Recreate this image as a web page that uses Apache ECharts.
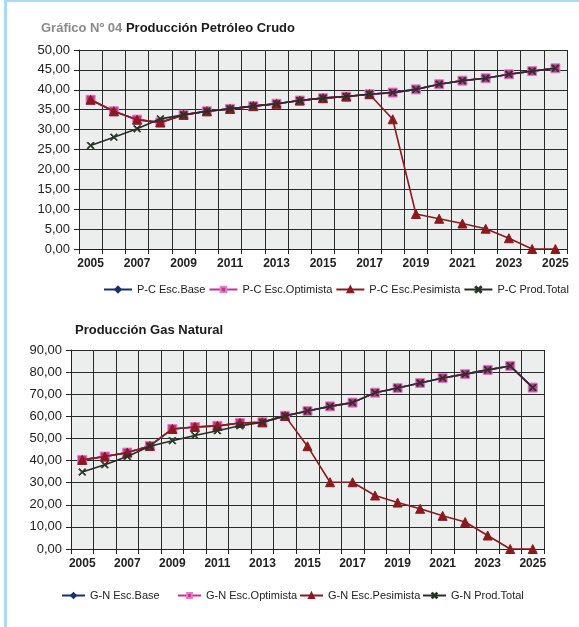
<!DOCTYPE html>
<html>
<head>
<meta charset="utf-8">
<script src="https://cdn.jsdelivr.net/npm/echarts@6/dist/echarts.min.js"></script>
<style>
  html, body { margin: 0; padding: 0; background: #fff; }
  #chart { width: 579px; height: 627px; }
  .edge-left { position: absolute; left: 4px; top: 0; width: 3px; height: 627px; background: #a9dcf4; }
  .edge-top { position: absolute; left: 4px; top: 0; width: 575px; height: 2px; background: #a9dcf4; }
</style>
</head>
<body>
<div class="edge-left"></div>
<div class="edge-top"></div>
<div id="chart"></div>
<script>
// años 2005 - 2025
const years = ['2005','2006','2007','2008','2009','2010','2011','2012','2013','2014','2015',
  '2016','2017','2018','2019','2020','2021','2022','2023','2024','2025'];

// Petróleo crudo
const pcBase = [37.5,34.6,32.5,31.8,33.7,34.6,35.2,35.9,36.5,37.3,37.9,38.3,38.9,39.3,40.1,41.4,42.3,42.9,43.9,44.7,45.4];
const pcOptimista = [37.5,34.6,32.5,31.8,33.7,34.6,35.2,35.9,36.5,37.3,37.9,38.3,38.9,39.3,40.1,41.4,42.3,42.9,43.9,44.7,45.4];
const pcPesimista = [37.5,34.6,32.5,31.8,33.7,34.6,35.2,35.9,36.5,37.3,37.9,38.3,38.9,32.6,8.8,7.6,6.4,5.1,2.7,0,0];
const pcTotal = [26.0,28.1,30.2,32.7,33.7,34.6,35.2,35.9,36.5,37.3,37.9,38.3,38.9,39.3,40.1,41.4,42.3,42.9,43.9,44.7,45.4];

// Gas natural
const gnBase = [40.3,41.8,43.6,46.6,54.3,55.2,55.7,57.0,57.3,60.2,62.4,64.5,66.2,70.7,72.8,75.1,77.3,79.1,81.0,82.8,73.0];
const gnOptimista = [40.3,41.8,43.6,46.6,54.3,55.2,55.7,57.0,57.3,60.2,62.4,64.5,66.2,70.7,72.8,75.1,77.3,79.1,81.0,82.8,73.0];
const gnPesimista = [40.3,41.8,43.6,46.6,54.3,55.2,55.7,57.0,57.3,60.2,46.5,30.2,30.2,24.2,21.0,18.2,15.0,12.2,6.1,0,0];
const gnTotal = [34.8,38.1,41.8,46.5,49.0,51.3,53.5,55.7,57.3,60.2,62.4,64.5,66.2,70.7,72.8,75.1,77.3,79.1,81.0,82.8,73.0];

const pcNames = ['P-C Esc.Base','P-C Esc.Optimista','P-C Esc.Pesimista','P-C Prod.Total'];
const gnNames = ['G-N Esc.Base','G-N Esc.Optimista','G-N Esc.Pesimista','G-N Prod.Total'];

const FONT = '"Liberation Sans", Arial, sans-serif';
const crossPath = 'path://M0,1L1,0L5,4L9,0L10,1L6,5L10,9L9,10L5,6L1,10L0,9L4,5Z';

const chart = echarts.init(document.getElementById('chart'));

const xAxisCfg = (gi) => ({
  type: 'category',
  gridIndex: gi,
  data: years,
  boundaryGap: true,
  axisLine: { lineStyle: { color: '#222', width: 1 } },
  axisTick: { show: true, interval: 0, length: 5, lineStyle: { color: '#222' } },
  axisLabel: { interval: 1, color: '#222', fontFamily: FONT, fontSize: 12, fontWeight: 'bold', margin: 9 },
  splitLine: { show: true, interval: 0, lineStyle: { color: '#2a2a2a', width: 1 } }
});

const yAxisCfg = (gi, max, step) => ({
  type: 'value',
  gridIndex: gi,
  min: 0, max: max, interval: step,
  axisLine: { show: true, lineStyle: { color: '#222' } },
  axisTick: { show: true, length: 5, lineStyle: { color: '#222' } },
  axisLabel: {
    color: '#222', fontFamily: FONT, fontSize: 13, margin: 9,
    formatter: (v) => v.toFixed(2).replace('.', ',')
  },
  splitLine: { show: true, lineStyle: { color: '#2a2a2a', width: 1 } }
});

const mkSeries = (names, data, gi) => {
  const styles = [
    { color: '#1b2f6e', symbol: 'diamond', size: 6, border: '#1b2f6e' },
    { color: '#c2348f', symbol: 'rect', size: 9, border: '#e27ec4' },
    { color: '#8b1a1f', symbol: 'triangle', size: 9, border: '#8b1a1f' },
    { color: '#263626', symbol: crossPath, size: 7, border: '#263626' }
  ];
  return data.map((d, i) => ({
    name: names[i],
    type: 'line',
    xAxisIndex: gi,
    yAxisIndex: gi,
    data: d,
    z: 2 + i,
    symbol: styles[i].symbol,
    symbolSize: styles[i].size,
    showAllSymbol: true,
    lineStyle: { color: i === 3 ? '#2b2b2b' : styles[i].color, width: 1.6 },
    itemStyle: { color: styles[i].color, borderColor: styles[i].border, borderWidth: 1 },
    emphasis: { disabled: true },
    animation: false
  }));
};

// leyenda del gráfico de gas: un bloque por elemento (espaciado fijo como en el original)
const gnLegendLeft = [61, 177, 299, 422];
const gnLegends = gnNames.map((n, i) => ({
  data: [n],
  left: gnLegendLeft[i], top: 590, padding: 0,
  itemWidth: 23, itemHeight: 6,
  textStyle: { color: '#222', fontFamily: FONT, fontSize: 11 }
}));

const option = {
  backgroundColor: 'transparent',
  animation: false,
  title: [
    {
      left: 36, top: 17,
      text: '{a|Gráfico Nº 04 }{b|Producción Petróleo Crudo}',
      textStyle: {
        rich: {
          a: { color: '#8a8a8a', fontFamily: FONT, fontSize: 13, fontWeight: 'bold' },
          b: { color: '#1a1a1a', fontFamily: FONT, fontSize: 13, fontWeight: 'bold' }
        }
      }
    },
    {
      left: 70, top: 319,
      text: 'Producción Gas Natural',
      textStyle: { color: '#1a1a1a', fontFamily: FONT, fontSize: 13, fontWeight: 'bold' }
    }
  ],
  legend: [
    {
      data: pcNames,
      left: 103, top: 284, width: 476, padding: 0,
      itemWidth: 28, itemHeight: 7, itemGap: 3,
      textStyle: { color: '#222', fontFamily: FONT, fontSize: 11 }
    },
    ...gnLegends
  ],
  grid: [
    { left: 79, top: 50, right: 12, height: 199, containLabel: false, show: true, backgroundColor: '#eceeed', borderWidth: 0 },
    { left: 71, top: 350, right: 35, height: 199, containLabel: false, show: true, backgroundColor: '#eceeed', borderWidth: 0 }
  ],
  xAxis: [xAxisCfg(0), xAxisCfg(1)],
  yAxis: [yAxisCfg(0, 50, 5), yAxisCfg(1, 90, 10)],
  series: [
    ...mkSeries(pcNames, [pcBase, pcOptimista, pcPesimista, pcTotal], 0),
    ...mkSeries(gnNames, [gnBase, gnOptimista, gnPesimista, gnTotal], 1)
  ]
};

chart.setOption(option);
</script>
</body>
</html>
